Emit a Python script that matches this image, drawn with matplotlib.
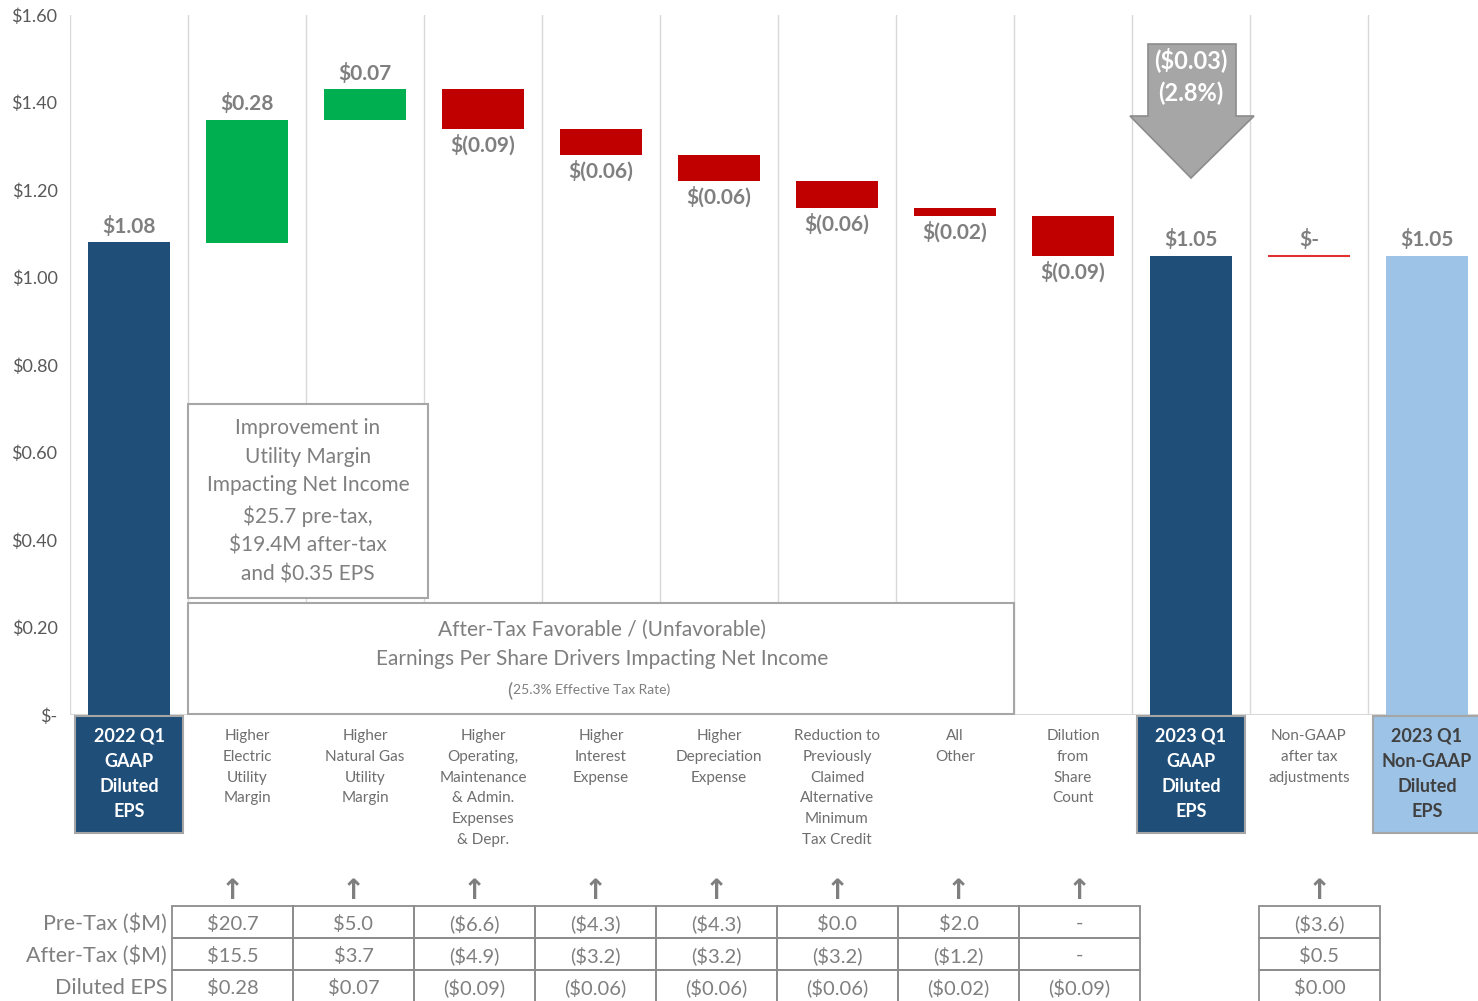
import numpy as np
import matplotlib
matplotlib.use("Agg")
import matplotlib.pyplot as plt
from matplotlib.patches import Rectangle, Polygon
from matplotlib.transforms import blended_transform_factory

plt.rcParams['font.family'] = ['Lato', 'DejaVu Sans']

# ---- data ----
categories = ["2022 Q1\nGAAP\nDiluted\nEPS",
              "Higher\nElectric\nUtility\nMargin",
              "Higher\nNatural Gas\nUtility\nMargin",
              "Higher\nOperating,\nMaintenance\n& Admin.\nExpenses\n& Depr.",
              "Higher\nInterest\nExpense",
              "Higher\nDepreciation\nExpense",
              "Reduction to\nPreviously\nClaimed\nAlternative\nMinimum\nTax Credit",
              "All\nOther",
              "Dilution\nfrom\nShare\nCount",
              "2023 Q1\nGAAP\nDiluted\nEPS",
              "Non-GAAP\nafter tax\nadjustments",
              "2023 Q1\nNon-GAAP\nDiluted\nEPS"]
kinds = ["total", "delta", "delta", "delta", "delta", "delta", "delta", "delta", "delta",
         "total", "delta", "total"]
eps = [1.08, 0.28, 0.07, -0.09, -0.06, -0.06, -0.06, -0.02, -0.09, 1.05, 0.00, 1.05]

row_labels = ["Pre-Tax ($M)", "After-Tax ($M)", "Diluted EPS"]
pretax = ["$20.7", "$5.0", "($6.6)", "($4.3)", "($4.3)", "$0.0", "$2.0", "-"]
aftertax = ["$15.5", "$3.7", "($4.9)", "($3.2)", "($3.2)", "($3.2)", "($1.2)", "-"]
eps_row = ["$0.28", "$0.07", "($0.09)", "($0.06)", "($0.06)", "($0.06)", "($0.02)", "($0.09)"]
nongaap_col = ["($3.6)", "$0.5", "$0.00"]

DARK = "#1F4E79"
LIGHT = "#9DC3E6"
GREEN = "#00B050"
RED = "#C00000"
GRAY = "#7F7F7F"
GRID = "#D9D9D9"

W, H = 1478, 1001
fig = plt.figure(figsize=(W / 100, H / 100), dpi=100)
ax = fig.add_axes([70 / W, 1 - 715 / H, (W - 70) / W, 700 / H])
ax.set_xlim(-0.5, (W - 129) / 118)
ax.set_ylim(0, 1.6)
for s in ax.spines.values():
    s.set_visible(False)

yt = np.arange(0, 1.61, 0.2)
ax.set_yticks(yt)
ax.set_yticklabels(["$-" if v < 0.01 else f"${v:.2f}" for v in yt], fontsize=13, color="#595959")
ax.tick_params(axis="y", length=0, pad=9)
ax.set_xticks([])

for b in np.arange(-0.5, len(eps) - 0.5, 1.0):
    ax.axvline(b, color=GRID, lw=1, zorder=0)
ax.axhline(0, color=GRID, lw=1.5, zorder=0)

# waterfall bars
bw = 0.70
running = 0.0
for i, (k, v) in enumerate(zip(kinds, eps)):
    if k == "total":
        running = v
        col = LIGHT if i == len(eps) - 1 else DARK
        ax.bar(i, v, bw, bottom=0, color=col, zorder=2)
        ax.annotate(f"${v:.2f}", (i, v), xytext=(0, 4), textcoords="offset points",
                    ha="center", va="bottom", fontsize=15, fontweight="bold", color=GRAY)
    elif v == 0:
        ax.hlines(running, i - bw / 2, i + bw / 2, color="#E03030", lw=1.5, zorder=2)
        ax.annotate("$-", (i, running), xytext=(0, 4), textcoords="offset points",
                    ha="center", va="bottom", fontsize=15, fontweight="bold", color=GRAY)
    else:
        bottom = running if v > 0 else running + v
        ax.bar(i, abs(v), bw, bottom=bottom, color=GREEN if v > 0 else RED, zorder=2)
        if v > 0:
            ax.annotate(f"${v:.2f}", (i, running + v), xytext=(0, 4), textcoords="offset points",
                        ha="center", va="bottom", fontsize=15, fontweight="bold", color=GRAY)
        else:
            ax.annotate(f"$({-v:.2f})", (i, running + v), xytext=(0, -4), textcoords="offset points",
                        ha="center", va="top", fontsize=15, fontweight="bold", color=GRAY)
        running += v

# category labels under the axis
tr = blended_transform_factory(ax.transData, ax.transAxes)
for i, (k, name) in enumerate(zip(kinds, categories)):
    if k == "total":
        fc = LIGHT if i == len(eps) - 1 else DARK
        tc = "#404040" if i == len(eps) - 1 else "white"
        ax.add_patch(Rectangle((i - 0.455, -0.168), 0.91, 0.166, transform=tr, clip_on=False,
                               facecolor=fc, edgecolor="#A6A6A6", lw=1.5, zorder=3))
        ax.text(i, -0.084, name, transform=tr, ha="center", va="center", fontsize=13,
                fontweight="bold", color=tc, linespacing=1.6, zorder=4)
    else:
        ax.text(i, -0.02, name, transform=tr, ha="center", va="top", fontsize=11,
                color="#6E6E6E", linespacing=1.62)

# overlay in pixel coordinates for boxes, arrow and table
ov = fig.add_axes([0, 0, 1, 1], facecolor="none")
ov.set_xlim(0, W)
ov.set_ylim(H, 0)
ov.axis("off")

ov.add_patch(Rectangle((188, 404), 240, 194, facecolor="white", edgecolor="#A6A6A6", lw=1.5))
ov.text(308, 501, "Improvement in\nUtility Margin\nImpacting Net Income\n$25.7 pre-tax,\n$19.4M after-tax\nand $0.35 EPS",
        ha="center", va="center", fontsize=15, color=GRAY, linespacing=1.55)
ov.add_patch(Rectangle((188, 603), 826, 111, facecolor="white", edgecolor="#A6A6A6", lw=1.5))
ov.text(602, 644, "After-Tax Favorable / (Unfavorable)\nEarnings Per Share Drivers Impacting Net Income",
        ha="center", va="center", fontsize=15, color=GRAY, linespacing=1.58)
ov.text(512, 690, "(", ha="right", va="center", fontsize=14, color=GRAY)
ov.text(513, 690, "25.3% Effective Tax Rate)", ha="left", va="center", fontsize=10, color=GRAY)

# change arrow
chg = eps[9] - eps[0]
pct = chg / eps[0] * 100
ov.add_patch(Polygon([(1148, 44), (1236, 44), (1236, 116), (1254, 116), (1191, 178),
                      (1130, 116), (1148, 116)], closed=True, facecolor="#A6A6A6",
                     edgecolor="#8C8C8C", lw=1.2))
ov.text(1191, 76, f"(${abs(chg):.2f})\n({abs(pct):.1f}%)", ha="center", va="center",
        fontsize=17, fontweight="bold", color="white", linespacing=1.5)

# table
rows_y = [906, 938, 970, 1002]
cw = 121


def draw_table(x0, cols):
    for c, colvals in enumerate(cols):
        xl = x0 + c * cw
        ov.text(xl + cw / 2, 891, "\u2191", ha="center", va="center", fontsize=20,
                fontweight="bold", color=GRAY, family="DejaVu Sans")
        for r, val in enumerate(colvals):
            ov.add_patch(Rectangle((xl, rows_y[r]), cw, rows_y[r + 1] - rows_y[r],
                                   facecolor="none", edgecolor="#8C8C8C", lw=1.3))
            ov.text(xl + cw / 2, (rows_y[r] + rows_y[r + 1]) / 2 + 1.5, val, ha="center",
                    va="center", fontsize=14.5, color=GRAY)


draw_table(172, list(zip(pretax, aftertax, eps_row)))
draw_table(1259, [nongaap_col])
for r, lab in enumerate(row_labels):
    ov.text(167, (rows_y[r] + rows_y[r + 1]) / 2 + 1.5, lab, ha="right", va="center",
            fontsize=15.5, color=GRAY)

fig.savefig("out.png", dpi=100)
